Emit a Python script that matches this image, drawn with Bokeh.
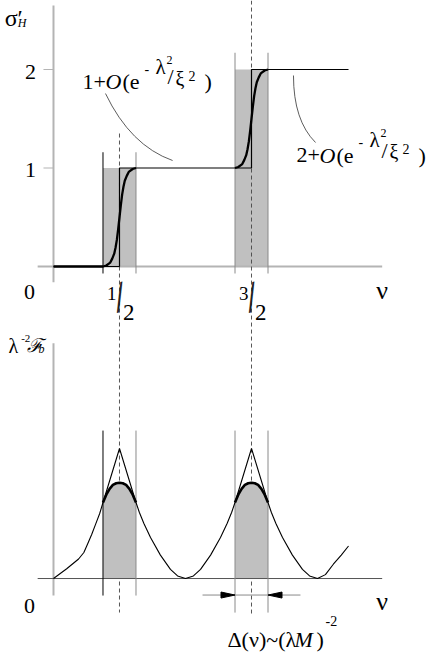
from bokeh.plotting import figure
from bokeh.models import Range1d
from bokeh.core.properties import value
from bokeh.embed import file_html
from bokeh.resources import INLINE

# ---------------- data ----------------
NU_HALF = [0.5, 1.5]            # half-integer filling factors
WINDOW_HALF = 0.125             # half width of the window Delta(nu)
PLATEAU = [0, 1, 2]             # sigma'_H plateaus
Y_TICKS = [1, 2]
Y_TICK_LABELS = ["1", "2"]
X_FRAC_LABELS = [("1", "2"), ("3", "2")]

STEP_NU = [0.0, 0.5, 0.5, 1.5, 1.5, 2.235]
STEP_SIGMA = [0, 0, 1, 1, 2, 2]

SMOOTH_DNU = [-0.125, -0.1, -0.07, -0.055, -0.04, -0.03, -0.02, -0.01, 0.0,
              0.01, 0.02, 0.03, 0.04, 0.055, 0.07, 0.1, 0.125]
SMOOTH_FRAC = [0.0, 0.01, 0.04, 0.08, 0.13, 0.19, 0.27, 0.38, 0.5,
               0.62, 0.73, 0.81, 0.87, 0.92, 0.96, 0.99, 1.0]

F_NU = [0.0, 0.1, 0.19, 0.23, 0.26, 0.29, 0.32, 0.35, 0.375, 0.5,
        0.625, 0.65, 0.684, 0.735, 0.81, 0.886, 0.94, 1.0,
        1.06, 1.114, 1.19, 1.265, 1.316, 1.35, 1.375, 1.5,
        1.625, 1.65, 1.684, 1.735, 1.81, 1.886, 1.94, 2.0,
        2.06, 2.12, 2.18, 2.235]
F_VAL = [0.0, 0.075, 0.15, 0.2, 0.27, 0.34, 0.42, 0.5, 0.585, 1.0,
         0.585, 0.51, 0.425, 0.315, 0.18, 0.07, 0.02, 0.0,
         0.02, 0.07, 0.18, 0.315, 0.425, 0.51, 0.585, 1.0,
         0.585, 0.51, 0.425, 0.315, 0.18, 0.07, 0.02, 0.0,
         0.03, 0.11, 0.18, 0.25]

HUMP_DNU = [-0.125, -0.1, -0.075, -0.05, -0.025, 0.0, 0.025, 0.05, 0.075, 0.1, 0.125]
HUMP_F = [0.585, 0.645, 0.69, 0.72, 0.733, 0.737, 0.733, 0.72, 0.69, 0.645, 0.585]

# ---------------- figure ----------------
SERIF = "Liberation Serif"
GRAY_AXIS = "#b4b4b4"
GRAY_LINE = "#8a8a8a"
FILL = "#c0c0c0"
TEXT_SHIFT = -7   # px, compensates the svg text baseline placement

p = figure(width=436, height=665, x_range=Range1d(-0.4015, 2.9015),
           y_range=Range1d(-4.0508, 2.7005), output_backend="svg",
           toolbar_location=None, tools="", min_border=0,
           x_axis_location=None, y_axis_location=None)
p.extra_y_ranges = {"F": Range1d(-0.669, 4.446)}
p.grid.visible = False
p.outline_line_color = None
p.background_fill_color = "white"
p.border_fill_color = "white"


def txt(x, y, s, size, dx=0, dy=0, style="normal", font=SERIF, align="left",
        rng="default", angle=0.0, color="black"):
    p.text(x=[x], y=[y], text=[s], x_offset=dx, y_offset=dy + TEXT_SHIFT,
           text_font=value(font), text_font_size=f"{size}px",
           text_font_style=style, text_align=align, text_baseline="alphabetic",
           text_color=color, y_range_name=rng, angle=angle)


left_edges = [c - WINDOW_HALF for c in NU_HALF]
right_edges = [c + WINDOW_HALF for c in NU_HALF]

# ======== top panel: sigma'_H ========
p.quad(left=left_edges, right=right_edges, bottom=[0, 0], top=PLATEAU[1:],
       fill_color=FILL, line_color=None)

# axes
p.segment(x0=[0], y0=[-0.16], x1=[0], y1=[2.65], line_color=GRAY_AXIS, line_width=2)
p.segment(x0=[-0.12], y0=[0], x1=[2.49], y1=[0], line_color=GRAY_AXIS, line_width=1.8)
p.segment(x0=[-0.076] * 2, y0=Y_TICKS, x1=[0] * 2, y1=Y_TICKS,
          line_color=GRAY_AXIS, line_width=1.2)

# window edge lines
top_ext = [PLATEAU[1] + 0.16, PLATEAU[1] + 0.16, PLATEAU[2] + 0.17, PLATEAU[2] + 0.17]
edges = [left_edges[0], right_edges[0], left_edges[1], right_edges[1]]
p.segment(x0=edges, y0=[-0.071] * 4, x1=edges, y1=top_ext,
          line_color=["black", GRAY_LINE, GRAY_LINE, GRAY_LINE], line_width=1)

# dashed centre lines (run through both panels)
p.segment(x0=NU_HALF, y0=[1.35, 2.7], x1=NU_HALF, y1=[-3.513, -3.523],
          line_color="#444444", line_width=0.9, line_dash="4 3")

# sharp step
p.line(STEP_NU, STEP_SIGMA, line_color="black", line_width=1.2)

# smooth steps (thick)
for c, base in zip(NU_HALF, PLATEAU[:2]):
    xs = [c + d for d in SMOOTH_DNU]
    ys = [base + f for f in SMOOTH_FRAC]
    if base == 0:
        xs = [0.0] + xs
        ys = [0.0] + ys
    p.line(xs, ys, line_color="black", line_width=2.3)

# leader lines
p.quadratic(x0=[0.394, 1.818], y0=[1.756, 1.939], x1=[0.902, 1.985], y1=[1.076, 1.259],
            cx=[0.583, 1.818], cy=[1.228, 1.482], line_color="#333333", line_width=0.8)

# labels top
txt(-0.37, 2.447, "σ′", 24)
txt(-0.27, 2.396, "H", 12, style="italic")
for yt, lab in zip(Y_TICKS, Y_TICK_LABELS):
    txt(-0.174, yt - 0.095, lab, 22, align="center")
txt(-0.182, -0.335, "0", 22, align="center")
txt(2.49, -0.315, "ν", 26, align="center")
for c, (num, den) in zip(NU_HALF, X_FRAC_LABELS):
    txt(c - 0.058, -0.345, num, 19, align="center")
    txt(c, -0.38, "/", 44, align="center", angle=0.22, color="#222222",
        font="DejaVu Sans ExtraLight")
    txt(c + 0.07, -0.538, den, 23, align="center")

PIECES = [
    ("O", 23, 0, 22, "italic"),
    ("(e", 40, 0, 22, "normal"),
    ("-", 62, -13, 14, "normal"),
    ("λ", 73, -15, 21, "normal"),
    ("2", 84, -22, 12, "normal"),
    ("/", 85, -5, 22, "normal"),
    ("ξ", 93, -3, 20, "normal"),
    ("2", 106, -6, 14, "normal"),
    (")", 122, 0, 22, "normal"),
]
for (ax, ay, lead) in [(0.2197, 1.807, "1+"), (1.841, 1.056, "2+")]:
    txt(ax, ay, lead, 22)
    for s, dx, dy, size, style in PIECES:
        txt(ax, ay, s, size, dx=dx, dy=dy, style=style)

# ======== bottom panel: lambda^-2 F_b ========
for c in NU_HALF:
    xs = [c + d for d in HUMP_DNU]
    p.varea(x=xs, y1=[0] * len(xs), y2=HUMP_F, fill_color=FILL, y_range_name="F")

p.segment(x0=[0], y0=[-0.131], x1=[0], y1=[1.81], line_color=GRAY_AXIS,
          line_width=2, y_range_name="F")
p.segment(x0=[-0.12], y0=[0], x1=[2.49], y1=[0], line_color="#555555",
          line_width=1, y_range_name="F")

p.segment(x0=edges, y0=[-0.131, -0.131, -0.262, -0.262], x1=edges, y1=[1.138] * 4,
          line_color=["black", GRAY_LINE, GRAY_LINE, GRAY_LINE], line_width=1,
          y_range_name="F")

p.line(F_NU, F_VAL, line_color="black", line_width=1.1, y_range_name="F")
for c in NU_HALF:
    xs = [c + d for d in HUMP_DNU]
    p.line(xs, HUMP_F, line_color="black", line_width=2.6, y_range_name="F")

# width arrows around the second window
ay = -0.127
L, R = left_edges[1], right_edges[1]
p.segment(x0=[L - 0.246], y0=[ay], x1=[R + 0.246], y1=[ay], line_color=GRAY_LINE,
          line_width=1, y_range_name="F")
hl, hw = 14 / 132, 3 / 130
p.patches(xs=[[L, L - hl, L - hl], [R, R + hl, R + hl]],
          ys=[[ay, ay + hw, ay - hw], [ay, ay + hw, ay - hw]],
          fill_color="black", line_color="black", y_range_name="F")

# labels bottom
txt(-0.34, 1.738, "λ", 20, rng="F")
txt(-0.245, 1.792, "-2", 11, rng="F")
txt(-0.2, 1.746, "ℱ", 19, style="italic", font="DejaVu Serif", rng="F")
txt(-0.113, 1.715, "b", 12, style="italic", rng="F")
txt(-0.182, -0.262, "0", 22, align="center", rng="F")
txt(2.49, -0.231, "ν", 26, align="center", rng="F")

dax, day = 1.318, -0.523
txt(dax, day, "Δ(ν)~(λ", 22, rng="F")
txt(dax, day, "M", 22, dx=67, style="italic", rng="F")
txt(dax, day, ")", 22, dx=89, rng="F")
txt(dax, day, "-2", 14, dx=98, dy=-19, rng="F")

open("out.html", "w").write(file_html(p, INLINE))
